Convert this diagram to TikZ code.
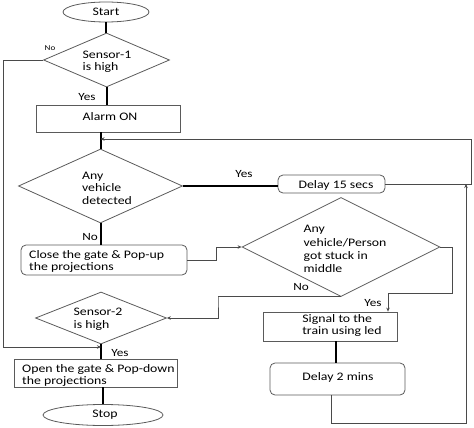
\documentclass[tikz,border=0pt]{standalone}
\usepackage{fontspec}
\setmainfont{Carlito}[FakeStretch=1.2]
\usetikzlibrary{shapes.geometric,arrows.meta}
\definecolor{boxgray}{HTML}{5A5A5A}
\definecolor{linegray}{HTML}{4A4A4A}
\begin{document}
\begin{tikzpicture}[x=1pt,y=-1pt,
  box/.style={draw=boxgray, line width=0.8pt, inner sep=0pt},
  rbox/.style={box, rounded corners=5pt},
  dia/.style={diamond, draw=boxgray, line width=0.8pt, inner sep=0pt},
  oval/.style={ellipse, draw=boxgray, line width=0.8pt, inner sep=0pt},
  txt/.style={font=\fontsize{11.5}{12.5}\selectfont, inner sep=0pt, align=left},
  lbl/.style={font=\fontsize{11}{12}\selectfont, inner sep=0pt},
  smalllbl/.style={font=\fontsize{7.5}{8}\selectfont, inner sep=0pt},
  thickline/.style={line width=2pt, black},
  thinline/.style={line width=0.9pt, linegray},
  arr/.style={-{Stealth[length=4pt,width=3.5pt]}},
]
\useasboundingbox (0,0) rectangle (474,428);

% shapes
\node[oval, minimum width=86pt, minimum height=20pt] (start) at (106,12) {};
\node[dia, minimum width=126pt, minimum height=54pt] (s1) at (106.5,60) {};
\node[box, minimum width=144pt, minimum height=27pt] (alarm) at (108,118.5) {};
\node[dia, minimum width=164pt, minimum height=74pt] (veh) at (100.5,186) {};
\node[rbox, minimum width=107pt, minimum height=18pt] (d15) at (331.5,184) {};
\node[rbox, minimum width=166pt, minimum height=30pt] (close) at (104,260) {};
\node[dia, minimum width=198pt, minimum height=99pt] (stuck) at (341,247) {};
\node[dia, minimum width=131pt, minimum height=52pt] (s2) at (101,318) {};
\node[box, minimum width=163pt, minimum height=28pt] (open) at (95.5,373) {};
\node[box, minimum width=134pt, minimum height=29pt] (signal) at (330,326.5) {};
\node[rbox, minimum width=135pt, minimum height=32pt] (d2) at (337.5,379) {};
\node[oval, minimum width=120pt, minimum height=21pt] (stop) at (103,415) {};

% texts
\node[txt] (tstart) at (106,12) {Start};
\node[txt] (ts1) at (107,62) {Sensor-1\\is high};
\node[txt] (talarm) at (110,117) {Alarm ON};
\node[txt] (tveh) at (107,188) {Any\\vehicle\\detected};
\node[txt] (td15) at (336,185) {Delay 15 secs};
\node[txt, anchor=west] (tclose) at (29,261.5) {Close the gate \& Pop-up\\the projections};
\node[txt, font=\fontsize{11.5}{13.3}\selectfont] (tstuck) at (345,249) {Any\\vehicle/Person\\got stuck in\\middle};
\node[txt] (ts2) at (98,319.5) {Sensor-2\\is high};
\node[txt, anchor=west] (topen) at (22,375.5) {Open the gate \& Pop-down\\the projections};
\node[txt] (tsignal) at (342,325.5) {Signal to the\\train using led};
\node[txt] (td2) at (338,377.5) {Delay 2 mins};
\node[txt] (tstop) at (105,415) {Stop};

% labels
\node[smalllbl] (lno1) at (50,48) {No};
\node[lbl] (lyes1) at (87,97) {Yes};
\node[lbl] (lyes2) at (244,174) {Yes};
\node[lbl] (lno2) at (90,237) {No};
\node[lbl] (lno3) at (301,287) {No};
\node[lbl] (lyes3) at (373,303) {Yes};
\node[lbl] (lyes4) at (120,353) {Yes};

% corner coordinates
\coordinate (c1) at (471,139);
\coordinate (c2) at (466,423);
\coordinate (c3) at (218,297);
\coordinate (c4) at (452,293);
\coordinate (c5) at (388,293);
\coordinate (c6) at (3,347);

% thick connectors
\draw[thickline] (start.south) -- (start.south |- s1.north);
\draw[thickline] (s1.south) -- (s1.south |- alarm.north);
\draw[thickline] (veh.north |- alarm.south) -- (veh.north);
\draw[thickline] (veh.east) -- (veh.east -| d15.west);
\draw[thickline] (veh.south) -- (veh.south |- close.north);
\draw[thickline] (s2.south) -- (s2.south |- open.north);
\draw[thickline] (stop.north |- open.south) -- (stop.north);
\draw[thickline] ([xshift=6pt]signal.south) -- ([xshift=6pt]signal.south |- d2.north);

% thin connectors
\draw[thinline, arr] (d15.east) -| (c1) -- (c1 -| veh.north);
\draw[thinline, arr] ([xshift=-6.5pt]d2.south) |- (c2) -- (c2 |- d15.east);
\draw[thinline, arr] (close.east) -- ++(29,0) |- (stuck.west);
\draw[thinline, arr] (stuck.south) -| (c3) |- (s2.east);
\draw[thinline, arr] (stuck.east) -| (c4) -- (c5) -- (c5 |- signal.north);
\draw[thinline, arr] (s1.west) -| (c6) -- (c6 -| s2.south);
\end{tikzpicture}
\end{document}
